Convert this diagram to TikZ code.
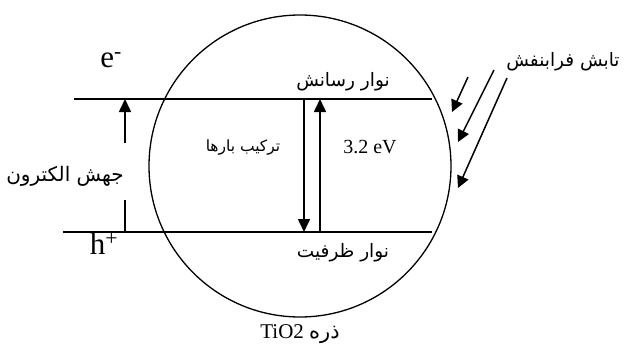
\documentclass[tikz,border=0pt]{standalone}
\usepackage{fontspec}
\setmainfont{Liberation Serif}
\newfontfamily\fafont[Script=Arabic]{DejaVu Sans}
\TeXXeTstate=1
\usepackage{tikz}
\usetikzlibrary{arrows.meta,positioning,calc}

\begin{document}
\begin{tikzpicture}[x=1pt, y=-1pt, every node/.style={inner sep=0pt},
    band/.style={line width=1.6pt},
    jump/.style={line width=1.6pt, -{Triangle[length=13pt,width=12pt]}},
    uvray/.style={line width=1.5pt, -{Triangle[length=12pt,width=12pt]}},
    fa/.style={font=\fafont\fontsize{18.5}{20}\selectfont}]
  \useasboundingbox (0,0) rectangle (625,351);
  % TiO2 particle
  \draw[line width=1.3pt] (300,166) circle (151);
  % Band edges
  \coordinate (cbL) at (74,99);   \coordinate (cbR) at (432,99);
  \coordinate (vbL) at (63,232);  \coordinate (vbR) at (432,232);
  \draw[band] (cbL) -- (cbR);
  \draw[band] (vbL) -- (vbR);
  % Carriers
  \node (elec) at (111,60) {\fontsize{31}{31}\selectfont e\textsuperscript{-}};
  \node (hole) at (104,244) {\fontsize{31}{31}\selectfont h\textsuperscript{+}};
  % Electron jump (left)
  \coordinate (jmpB) at (125,232); \coordinate (jmpT) at (125,99);
  \coordinate (gapB) at (125,200); \coordinate (gapT) at (125,143);
  \node[fa, anchor=east, font=\fafont\fontsize{20}{22}\selectfont] (jmptxt) at (124,176) {\beginR جهش الکترون\endR};
  \draw[line width=1.6pt] (jmpB) -- (gapB);
  \draw[jump] (gapT) -- (jmpT);
  % Recombination and excitation
  \coordinate (recT) at (304,99);  \coordinate (recB) at (304,232);
  \coordinate (excB) at (320,232); \coordinate (excT) at (320,99);
  \draw[jump] (recT) -- (recB);
  \draw[jump] (excB) -- (excT);
  \node[fa, font=\fafont\fontsize{15.5}{17}\selectfont] (rectxt) at (243,148) {\beginR ترکیب بارها\endR};
  \node (gap) at (370,147) {\fontsize{20}{20}\selectfont 3.2 eV};
  \node[fa] (cbtxt) at (343,82) {\beginR نوار رسانش\endR};
  \node[fa] (vbtxt) at (343,253) {\beginR نوار ظرفیت\endR};
  \node (part) at (300,334) {\fontsize{21}{21}\selectfont\beginR{\fafont ذره} \beginL TiO2\endL\endR};
  % UV radiation
  \node[fa] (uvtxt) at (563,62) {\beginR تابش فرابنفش\endR};
  \coordinate (uv1s) at (468,77);  \coordinate (uv1e) at (452,112);
  \coordinate (uv2s) at (494,70);  \coordinate (uv2e) at (458,142);
  \coordinate (uv3s) at (507,78);  \coordinate (uv3e) at (458,188);
  \draw[uvray] (uv1s) -- (uv1e);
  \draw[uvray] (uv2s) -- (uv2e);
  \draw[uvray] (uv3s) -- (uv3e);
\end{tikzpicture}
\end{document}
